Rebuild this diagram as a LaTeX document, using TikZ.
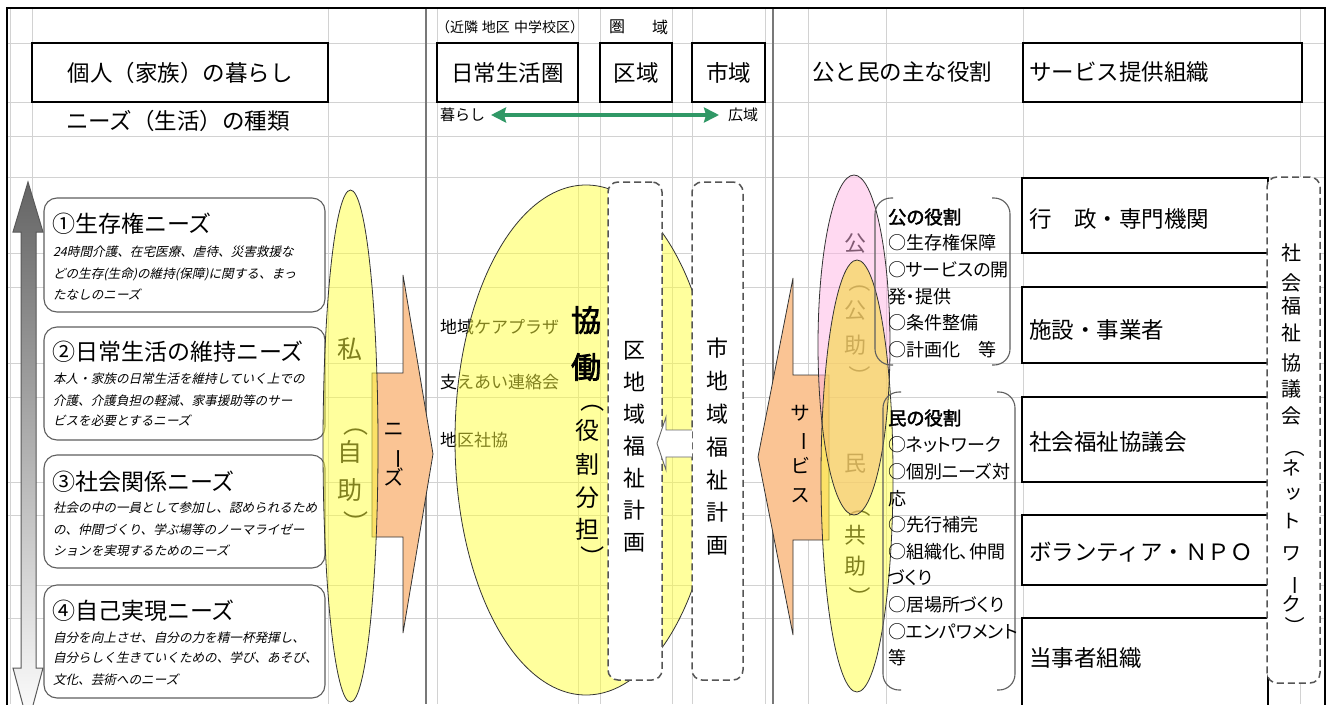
\documentclass[tikz,border=0pt]{standalone}
\usepackage{fontspec}
\usetikzlibrary{arrows.meta}
\setmainfont{Noto Sans CJK JP}
\newfontfamily\jpit[FakeSlant=0.22]{Noto Sans CJK JP}
\newfontfamily\jpbf[FakeBold=2.5]{Noto Sans CJK JP}
\newfontfamily\jpv[RawFeature=+vert]{Noto Sans CJK JP}
\newfontfamily\jpp[RawFeature=+palt]{Noto Sans CJK JP}
\newfontfamily\jppb[RawFeature=+palt,FakeBold=2]{Noto Sans CJK JP}

\definecolor{gridc}{RGB}{210,210,210}
\definecolor{sepc}{RGB}{120,120,120}
\definecolor{boxc}{RGB}{95,95,95}
\definecolor{dashc}{RGB}{85,85,85}
\definecolor{orangeA}{RGB}{250,196,148}
\definecolor{yellowB}{RGB}{255,255,60}
\definecolor{pinkB}{RGB}{255,180,228}
\definecolor{tanB}{RGB}{235,170,90}
\definecolor{greenA}{RGB}{48,152,102}
\definecolor{arrgray}{RGB}{100,100,100}

\newcommand\hf{\fontsize{22.5}{26}\selectfont}

\begin{document}
\begin{tikzpicture}[x=1pt,y=-1pt,
  every node/.style={inner sep=0pt,outer sep=0pt},
  gridln/.style={draw=gridc,line width=0.8pt},
  sepln/.style={draw=sepc,line width=1.3pt},
  hbox/.style={draw=black,line width=1.1pt,fill=white},
  needbox/.style={draw=boxc,line width=1.1pt,fill=white,rounded corners=13pt},
  dbox/.style={draw=dashc,line width=1.5pt,dash pattern=on 7pt off 4pt,fill=white,rounded corners=10pt},
  barrow/.style={fill=orangeA,draw=black!80,line width=0.8pt},
  ellout/.style={draw=black!80,line width=0.8pt},
  vt/.style={font=\jpv\fontsize{#1}{#1}\selectfont,text height=0.88em,text depth=0.12em},
  vt/.default=22,
  vr/.style={font=\fontsize{#1}{#1}\selectfont,text height=0.88em,text depth=0.12em,rotate=-90},
  vr/.default=22,
  ntitle/.style={anchor=west,font=\fontsize{23}{26}\selectfont},
  nline/.style={anchor=west,font=\jpit\fontsize{12.6}{15}\selectfont},
  role/.style={anchor=west,font=\jpp\fontsize{18}{20}\selectfont},
  rolehead/.style={anchor=west,font=\jppb\fontsize{18.5}{20}\selectfont},
  bracket/.style={draw=boxc,line width=1.1pt,rounded corners=16pt},
  orgbox/.style={draw=black,line width=1.1pt,fill=white,anchor=north west,minimum width=246pt},
  orgtext/.style={anchor=west,font=\hf},
  midtext/.style={anchor=west,font=\fontsize{17}{19}\selectfont},
  greenarr/.style={draw=greenA,line width=4pt,{Stealth[length=15pt,width=15pt,inset=2pt]}-{Stealth[length=15pt,width=15pt,inset=2pt]},shorten <=6pt,shorten >=9pt}
]
\useasboundingbox (0,0) rectangle (1329,704);
\clip (0,0) rectangle (1329,704);
\fill[white] (0,0) rectangle (1329,704);

% grid
\foreach \gx in {10,32,328,437,578,600,672,692,765,808,886,1023,1300}
  \draw[gridln] (\gx,8) -- (\gx,704);
\foreach \gy in {43,102,136,177,253,287,363,397,482,515,585,618}
  \draw[gridln] (8,\gy) -- (1325,\gy);
\draw[sepln] (426,8) -- (426,704);
\draw[sepln] (773,8) -- (773,704);
\draw[line width=2.2pt] (7,712) -- (7,8) -- (1325,8) -- (1325,712);

% header
\node[hbox,minimum width=296pt,minimum height=59pt,font=\hf] (kojin) at (180,72.5) {個人（家族）の暮らし};
\node[font=\hf] (needs) at (178,121) {ニーズ（生活）の種類};
\node[anchor=west,font=\fontsize{14}{16}\selectfont] (kinrin) at (436,27) {（近隣\hspace{4pt}地区\hspace{4pt}中学校区）};
\node[font=\fontsize{16}{18}\selectfont] (ken) at (617,27) {圏};
\node[font=\fontsize{16}{18}\selectfont] (ikiT) at (660,27) {域};
\node[hbox,minimum width=141pt,minimum height=59pt,font=\hf] (nichijo) at (507.5,72.5) {日常生活圏};
\node[hbox,minimum width=72pt,minimum height=59pt,font=\hf] (kuiki) at (636,72.5) {区域};
\node[hbox,minimum width=73pt,minimum height=59pt,font=\hf] (shiiki) at (728.5,72.5) {市域};
\node[anchor=west,font=\fontsize{15}{17}\selectfont] (kurashi) at (440,115) {暮らし};
\node[font=\fontsize{15}{17}\selectfont] (kouiki) at (743,115) {広域};
\draw[greenarr] (kurashi.east) -- (kouiki.west);
\node[anchor=west,font=\hf] (koumin) at (812,72.5) {公と民の主な役割};
\node[hbox,minimum width=279pt,minimum height=59pt] (svc) at (1162.5,72.5) {};
\node[anchor=west,font=\hf] (svcT) at (1029,72.5) {サービス提供組織};

% gray double arrow
\shadedraw[top color=arrgray,bottom color=white,draw=black!65,line width=1pt]
  (28,182) -- (43,232) -- (36,232) -- (36,668) -- (43,668) -- (28,724)
  -- (13,668) -- (21,668) -- (21,232) -- (13,232) -- cycle;

% needs boxes
\node[needbox,anchor=north west,minimum width=281pt,minimum height=114pt] (nb1) at (44,198) {};
\node[needbox,anchor=north west,minimum width=281pt,minimum height=113pt] (nb2) at (44,327) {};
\node[needbox,anchor=north west,minimum width=281pt,minimum height=113pt] (nb3) at (44,455) {};
\node[needbox,anchor=north west,minimum width=281pt,minimum height=113pt] (nb4) at (44,585) {};

\node[ntitle] (nt1) at (52,224) {①生存権ニーズ};
\node[nline] (nl11) at (53,252) {24時間介護、在宅医療、虐待、災害救援な};
\node[nline] (nl12) at (53,274) {どの生存(生命)の維持(保障)に関する、まっ};
\node[nline] (nl13) at (53,294) {たなしのニーズ};
\node[ntitle] (nt2) at (52,352) {②日常生活の維持ニーズ};
\node[nline] (nl21) at (53,379) {本人・家族の日常生活を維持していく上での};
\node[nline] (nl22) at (53,401) {介護、介護負担の軽減、家事援助等のサー};
\node[nline] (nl23) at (53,421) {ビスを必要とするニーズ};
\node[ntitle] (nt3) at (52,482) {③社会関係ニーズ};
\node[nline] (nl31) at (53,508) {社会の中の一員として参加し、認められるため};
\node[nline] (nl32) at (53,530) {の、仲間づくり、学ぶ場等のノーマライゼー};
\node[nline] (nl33) at (53,551) {ションを実現するためのニーズ};
\node[ntitle] (nt4) at (52,611) {④自己実現ニーズ};
\node[nline] (nl41) at (53,638) {自分を向上させ、自分の力を精一杯発揮し、};
\node[nline] (nl42) at (53,658) {自分らしく生きていくための、学び、あそび、};
\node[nline] (nl43) at (53,680) {文化、芸術へのニーズ};

% needs arrow
\filldraw[barrow] (372,373) -- (403,373) -- (403,275) -- (433,454) -- (403,633) -- (403,537) -- (372,537) -- cycle;
\node[vt=21] (vneeds1) at (394,433) {ニ};
\node[vr=21] (vneeds2) at (394,459) {ー};
\node[vt=21] (vneeds3) at (394,482) {ズ};

% private ellipse
\node[vt=25] (vjijo1) at (350,355) {私};
\node[vr=25] (vjijo2) at (350,423.5) {（};
\node[vt=25] (vjijo3) at (350,458) {自};
\node[vt=25] (vjijo4) at (350,496) {助};
\node[vr=25] (vjijo5) at (350,522.5) {）};
\fill[yellowB,fill opacity=0.5] (350.5,446) ellipse [x radius=27.5,y radius=256];
\draw[ellout] (350.5,446) ellipse [x radius=27.5,y radius=256];

% middle
\node[midtext] (care) at (440,327) {地域ケアプラザ};
\node[midtext] (sasae) at (440,382) {支えあい連絡会};
\node[midtext] (chiku) at (440,440) {地区社協};
\fill[yellowB,fill opacity=0.5] (586,440) ellipse [x radius=131,y radius=255];
\draw[ellout] (586,440) ellipse [x radius=131,y radius=255];
\node[font=\jpbf\fontsize{30}{30}\selectfont] (kyo) at (586,320) {協};
\node[font=\jpbf\fontsize{30}{30}\selectfont] (dou) at (586,367) {働};
\node[vr=24] (vyaku1) at (587,400.5) {（};
\foreach \c/\yy [count=\i from 2] in {役/436,割/470,分/503,担/535}
  \node[vt=24] (vyaku\i) at (587,\yy) {\c};
\node[vr=24] (vyaku6) at (587,557.5) {）};

\node[dbox,minimum width=54pt,minimum height=498pt] (kuplan) at (635,431) {};
\node[dbox,minimum width=51pt,minimum height=498pt] (shiplan) at (717.5,431) {};
\foreach \c [count=\i] in {区,地,域,福,祉,計,画}
  \node[vt] (vku\i) at (634,{355+32*(\i-1)}) {\c};
\foreach \c [count=\i] in {市,地,域,福,祉,計,画}
  \node[vt] (vshi\i) at (717,{353+32.8*(\i-1)}) {\c};
\filldraw[fill=white,draw=black!60,line width=0.9pt]
  (shiplan.west |- 0,430) -- (666,430) -- (666,417) -- (657,443.5) -- (666,470) -- (666,457) -- (shiplan.west |- 0,457);

% service arrow
\filldraw[barrow] (829,375) -- (793,375) -- (793,278) -- (758,457) -- (793,635) -- (793,540) -- (829,540) -- cycle;
\node[vt=20] (vsvc1) at (800,417) {サ};
\node[vr=20] (vsvc2) at (800,441) {ー};
\node[vt=20] (vsvc3) at (800,470) {ビ};
\node[vt=20] (vsvc4) at (800,499) {ス};

% public / private ellipses
\node[vt] (vkou1) at (855,248) {公};
\node[vr] (vkou2) at (855,281) {（};
\node[vt] (vkou3) at (855,315) {公};
\node[vt] (vkou4) at (855,350) {助};
\node[vr] (vkou5) at (855,376) {）};
\node[vt] (vkou6) at (855,468) {民};
\node[vr] (vkou7) at (855,506) {（};
\node[vt] (vkou8) at (855,540) {共};
\node[vt] (vkou9) at (855,571) {助};
\node[vr] (vkou10) at (855,597) {）};
\fill[pinkB,fill opacity=0.5] (854,345) ellipse [x radius=36,y radius=170];
\fill[yellowB,fill opacity=0.5] (857,476) ellipse [x radius=36,y radius=216];
\begin{scope}
  \clip (854,345) ellipse [x radius=36,y radius=170];
  \fill[tanB,fill opacity=0.3] (857,476) ellipse [x radius=36,y radius=216];
\end{scope}
\draw[ellout] (854,345) ellipse [x radius=36,y radius=170];
\draw[ellout] (857,476) ellipse [x radius=36,y radius=216];

% role brackets
\draw[bracket] (893,198) -- (875,198) -- (875,365) -- (893,365);
\draw[bracket] (992,198) -- (1010,198) -- (1010,365) -- (992,365);
\node[rolehead] (kouH) at (888,217) {公の役割};
\foreach \t [count=\i] in {○生存権保障,○サービスの開,発・提供,○条件整備,○計画化　等}
  \node[role] (kouR\i) at (888,{243+26.7*(\i-1)}) {\t};
\draw[bracket] (901,392) -- (883,392) -- (883,690) -- (901,690);
\draw[bracket] (997,392) -- (1015,392) -- (1015,690) -- (997,690);
\node[rolehead] (minH) at (888,418) {民の役割};
\foreach \t [count=\i] in {○ネットワーク,○個別ニーズ対,応,○先行補完,○組織化、仲間,づくり,○居場所づくり,○エンパワメント,等}
  \node[role] (minR\i) at (888,{445+26.6*(\i-1)}) {\t};

% organisations
\node[orgbox,minimum height=75pt] (org1) at (1022,178) {};
\node[orgbox,minimum height=76pt] (org2) at (1022,287) {};
\node[orgbox,minimum height=85pt] (org3) at (1022,397) {};
\node[orgbox,minimum height=70pt] (org4) at (1022,515) {};
\node[orgbox,minimum height=100pt] (org5) at (1022,618) {};
\node[orgtext] (orgt1) at (1029,219) {行　政・専門機関};
\node[orgtext] (orgt2) at (1029,330) {施設・事業者};
\node[orgtext] (orgt3) at (1029,442) {社会福祉協議会};
\node[orgtext] (orgt4) at (1029,552) {ボランティア・ＮＰＯ};
\node[orgtext] (orgt5) at (1029,658) {当事者組織};
\node[dbox,minimum width=53pt,minimum height=506pt] (netbox) at (1293.5,430) {};
\foreach \c/\yy [count=\i] in {社/257,会/287,福/310,祉/337,協/367,議/393,会/420}
  \node[vt=20] (vnet\i) at (1291,\yy) {\c};
\node[vr=20] (vnet8) at (1291,447.5) {（};
\node[vt=20] (vnet9) at (1291,472) {ネ};
\node[vt=20] (vnet10) at (1291,498) {ッ};
\node[vt=20] (vnet11) at (1291,525) {ト};
\node[vt=20] (vnet12) at (1291,557) {ワ};
\node[vr=20] (vnet13) at (1291,585) {ー};
\node[vt=20] (vnet14) at (1291,608) {ク};
\node[vr=20] (vnet15) at (1291,626.5) {）};
\end{tikzpicture}
\end{document}
